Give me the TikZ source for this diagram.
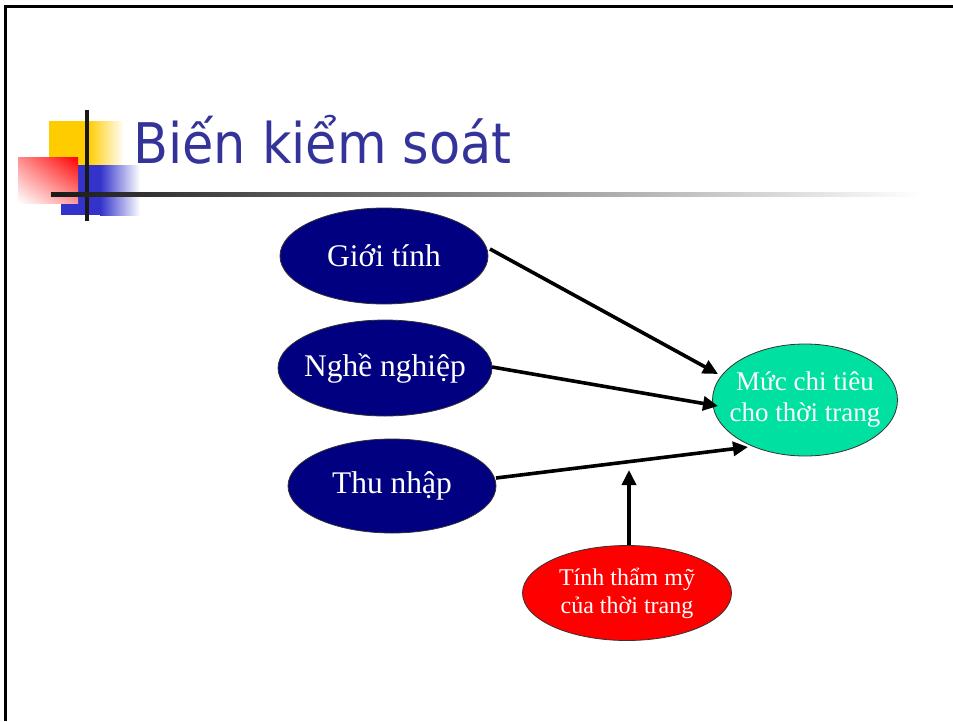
\documentclass[tikz,border=0pt]{standalone}
\usepackage{fontspec}
\setmainfont{Liberation Serif}
\newfontfamily\titlefont{DejaVu Sans}
\usetikzlibrary{shapes.geometric,arrows.meta,shadings}
\definecolor{navyfill}{RGB}{0,0,128}
\definecolor{mint}{RGB}{0,224,160}
\definecolor{titleblue}{RGB}{51,51,153}
\definecolor{sqyellow}{RGB}{255,204,0}
\definecolor{sqblue}{RGB}{51,51,204}
\tikzset{
  oval/.style={ellipse, draw=black!80, line width=0.8pt, text=white, align=center, inner sep=-40pt},
  link/.style={line width=3.6pt, -{Triangle[length=15pt,width=14pt]}},
}
\begin{document}
\begin{tikzpicture}[x=1pt,y=-1pt]
\useasboundingbox (0,0) rectangle (953,721);
\fill[white] (0,0) rectangle (953,721);
% frame
\draw[line width=3pt] (5,6.5) -- (953,6.5);
\draw[line width=3pt] (5,5) -- (5,721);
% decoration
\fill[sqyellow] (49,121) rectangle (88,166);
\shade[left color=sqyellow, right color=white] (88,121) rectangle (124,166);
\fill[sqblue] (61,165) rectangle (100,215);
\shade[left color=sqblue, right color=white] (100,165) rectangle (140,215);
\shade[upper right=red, upper left=red!45!white, lower right=red!40!white, lower left=white] (18,157) rectangle (78,203);
\draw[line width=4pt, black!90] (87,110) -- (87,221);
\shade[left color=black!90, right color=white] (51,192) rectangle (920,196.5);
% title
\node[anchor=base west, text=titleblue, font=\titlefont\fontsize{56}{60}\selectfont, inner sep=0pt] (title) at (133,163) {\scalebox{0.91}[1]{Biến kiểm soát}};
% nodes
\node[oval, fill=navyfill, minimum width=208pt, minimum height=96pt, font=\fontsize{31.5}{34}\selectfont] (gt) at (384,256) {Giới tính};
\node[oval, fill=navyfill, minimum width=214pt, minimum height=96pt, font=\fontsize{31.5}{34}\selectfont] (nn) at (385,368) {Nghề nghiệp};
\node[oval, fill=navyfill, minimum width=208pt, minimum height=94pt, font=\fontsize{31.5}{34}\selectfont] (tn) at (392,486) {Thu nhập};
\node[oval, fill=mint, minimum width=185pt, minimum height=112pt, font=\fontsize{27}{31}\selectfont] (mc) at (805,400) {Mức chi tiêu\\cho thời trang};
\node[oval, fill=red, minimum width=209pt, minimum height=95pt, font=\fontsize{24}{28}\selectfont] (tm) at (627,593) {Tính thẩm mỹ\\của thời trang};
% connectors
\coordinate (a1) at (718,374);
\coordinate (a2) at (718,406);
\coordinate (a3) at (748,447);
\coordinate (a4) at (629,470);
\coordinate (s1) at (490,249);
\coordinate (s2) at (492,367);
\coordinate (s3) at (496,478);
\coordinate (s4) at (629,545);
\draw[link] (s1) -- (a1);
\draw[link] (s2) -- (a2);
\draw[link] (s3) -- (a3);
\draw[link] (s4) -- (a4);
\end{tikzpicture}
\end{document}
